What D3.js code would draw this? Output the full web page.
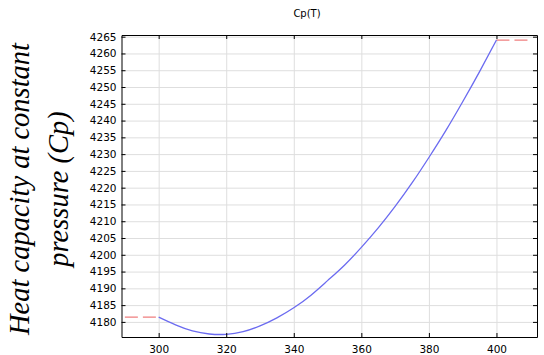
<!DOCTYPE html>
<html>
<head>
<meta charset="utf-8">
<script src="https://cdn.jsdelivr.net/npm/d3@7"></script>
<style>
  body { margin: 0; background: #fff; }
  svg { display: block; }
  .tick text { font-family: "DejaVu Sans", sans-serif; font-size: 10.5px; fill: #000; }
  .grid line { stroke: #dedede; stroke-width: 1; }
  .grid path { display: none; }
  .frame path, .frame line { stroke: #000; }
  .ylab { font-family: "Liberation Serif", "Times New Roman", Times, serif; font-style: italic; font-size: 28px; fill: #000; }
</style>
</head>
<body>
<div id="chart"></div>
<script>
// temperatures (K) and Cp values
var temps = [300, 305, 310, 315, 320, 325, 330, 335, 340, 345, 350,
             355, 360, 365, 370, 375, 380, 385, 390, 395, 400]
var cp    = [4181.4, 4179.1, 4177.3, 4176.4, 4176.3, 4177.1, 4178.8, 4181.2, 4184.2, 4187.9, 4192.3,
             4196.9, 4202.2, 4208.0, 4214.4, 4221.4, 4229.0, 4237.0, 4245.6, 4254.6, 4264.0]

// constant extrapolation outside the valid range (red dashed)
var lowT  = [290, 300], lowCp  = [4181.4, 4181.4]
var highT = [400, 410], highCp = [4264.0, 4264.0]

var xTicks = [300, 320, 340, 360, 380, 400]
var yTicks = d3.range(4180, 4266, 5)

var width = 544,
    height = 355,
    margin = {top: 35, right: 7, bottom: 18, left: 121.5}

var svg = d3.select('#chart').append('svg')
    .attr('width', width)
    .attr('height', height)

var x = d3.scaleLinear()
    .domain([289, 412])
    .range([margin.left, width - margin.right])

var y = d3.scaleLinear()
    .domain([4175.5, 4265.5])
    .range([height - margin.bottom, margin.top])

var plotW = x.range()[1] - x.range()[0],
    plotH = y.range()[0] - y.range()[1]

// grid
svg.append('g')
    .attr('class', 'grid')
    .attr('transform', 'translate(0,' + y.range()[0] + ')')
    .call(d3.axisBottom(x).tickValues(xTicks).tickSize(-plotH).tickFormat(''))

svg.append('g')
    .attr('class', 'grid')
    .attr('transform', 'translate(' + margin.left + ',0)')
    .call(d3.axisLeft(y).tickValues(yTicks).tickSize(-plotW).tickFormat(''))

// curves
var line = d3.line()
    .x(function (d) { return x(d[0]) })
    .y(function (d) { return y(d[1]) })

svg.append('path')
    .datum(d3.zip(lowT, lowCp))
    .attr('fill', 'none')
    .attr('stroke', '#ef7f7f')
    .attr('stroke-width', 1.3)
    .attr('stroke-dasharray', '13,5')
    .attr('d', line)

svg.append('path')
    .datum(d3.zip(highT, highCp))
    .attr('fill', 'none')
    .attr('stroke', '#ef7f7f')
    .attr('stroke-width', 1.3)
    .attr('stroke-dasharray', '13,5')
    .attr('d', line)

svg.append('path')
    .datum(d3.zip(temps, cp))
    .attr('fill', 'none')
    .attr('stroke', '#6b6bf0')
    .attr('stroke-width', 1.3)
    .attr('d', line.curve(d3.curveNatural))

// frame with inward ticks
var fmt = d3.format('d')

svg.append('g')
    .attr('class', 'frame')
    .attr('transform', 'translate(0,' + y.range()[0] + ')')
    .call(d3.axisBottom(x).tickValues(xTicks).tickFormat(fmt).tickSizeInner(-4).tickSizeOuter(0).tickPadding(9))

svg.append('g')
    .attr('class', 'frame')
    .attr('transform', 'translate(0,' + y.range()[1] + ')')
    .call(d3.axisTop(x).tickValues(xTicks).tickSizeInner(-4).tickSizeOuter(0).tickFormat(''))

svg.append('g')
    .attr('class', 'frame')
    .attr('transform', 'translate(' + margin.left + ',0)')
    .call(d3.axisLeft(y).tickValues(yTicks).tickFormat(fmt).tickSizeInner(-4).tickSizeOuter(0).tickPadding(5))

svg.append('g')
    .attr('class', 'frame')
    .attr('transform', 'translate(' + x.range()[1] + ',0)')
    .call(d3.axisRight(y).tickValues(yTicks).tickSizeInner(-4).tickSizeOuter(0).tickFormat(''))

// title
svg.append('text')
    .attr('x', 307)
    .attr('y', 17)
    .attr('text-anchor', 'middle')
    .style('font-family', '"DejaVu Sans", sans-serif')
    .style('font-size', '10px')
    .text('Cp(T)')

// y label, sized so the first line spans about 292px like the original
var ylab = svg.append('text')
    .attr('class', 'ylab')
    .attr('transform', 'translate(0,189) rotate(-90)')
    .attr('text-anchor', 'middle')

var l1 = ylab.append('tspan').attr('x', 0).attr('y', 29).text('Heat capacity at constant')
ylab.append('tspan').attr('x', 0).attr('y', 68).text('pressure (Cp)')

var len = l1.node().getComputedTextLength()
if (len > 0) ylab.style('font-size', (28 * 292 / len).toFixed(2) + 'px')
</script>
</body>
</html>
